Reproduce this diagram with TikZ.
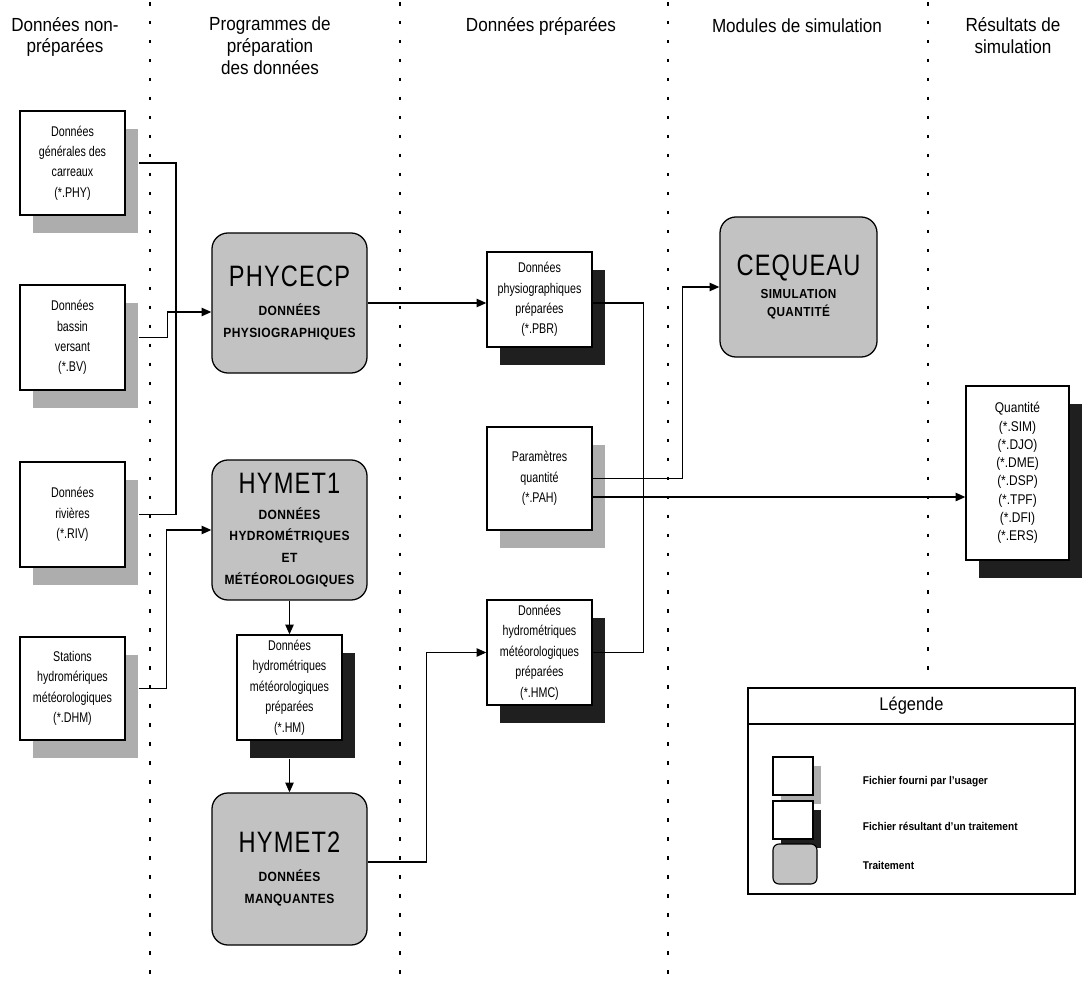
\documentclass[tikz,border=0pt]{standalone}
\usepackage{fontspec}
\setmainfont[FakeStretch=0.9]{Liberation Sans}
\newfontfamily\boxfont[FakeStretch=0.76]{Liberation Sans}
\newfontfamily\titlefont[FakeStretch=0.8,LetterSpace=4]{Liberation Sans}
\newfontfamily\subfont[FakeStretch=0.9,LetterSpace=3]{Liberation Sans}
\newfontfamily\qfont[FakeStretch=0.85]{Liberation Sans}
\usetikzlibrary{arrows.meta,calc,shadows}
\definecolor{procgray}{gray}{0.76}
\definecolor{shadegray}{gray}{0.68}
\definecolor{shadedark}{gray}{0.12}
\newcommand{\proctitle}[1]{{\titlefont\mdseries\fontsize{21}{24}\selectfont #1}}
\begin{document}
\begin{tikzpicture}[x=0.025cm,y=-0.025cm,
  conn/.style={line width=1pt},
  arr/.style={conn,-{Triangle[length=7pt,width=6pt]}},
  divider/.style={line width=1.2pt, dash pattern=on 2.5pt off 11pt},
  filebox/.style={draw, line width=0.9pt, fill=white, align=center, inner sep=1pt,
    font=\boxfont\fontsize{10}{14.5}\selectfont, minimum width=2.625cm},
  userfile/.style={filebox, drop shadow={shadow xshift=0.325cm, shadow yshift=-0.45cm, fill=shadegray, opacity=1}},
  resfile/.style={filebox, drop shadow={shadow xshift=0.325cm, shadow yshift=-0.45cm, fill=shadedark, opacity=1}},
  proc/.style={draw, line width=0.9pt, fill=procgray, rounded corners=0.4cm, align=center,
    minimum width=3.875cm, minimum height=3.5cm, font=\subfont\bfseries\fontsize{9.5}{15.5}\selectfont},
  header/.style={align=center, font=\fontsize{13.5}{15.5}\selectfont},
  legtext/.style={anchor=west, font=\bfseries\fontsize{8}{10}\selectfont}
]
\useasboundingbox (0,0) rectangle (1084,984);

% column dividers
\draw[divider] (150,2) -- (150,984);
\draw[divider] (400,2) -- (400,984);
\draw[divider] (668,2) -- (668,984);
\draw[divider] (928,2) -- (928,684);

% headers
\node[header] (h1) at (65,37) {Données non-\\préparées};
\node[header] (h2) at (270,46) {Programmes de\\préparation\\des données};
\node[header] (h3) at (541,26) {Données préparées};
\node[header] (h4) at (797,26) {Modules de simulation};
\node[header] (h5) at (1013,36) {Résultats de\\simulation};

% user files (left column)
\node[userfile, minimum height=2.6cm] (phy) at (72.5,163) {Données\\générales des\\carreaux\\(*.PHY)};
\node[userfile, minimum height=2.625cm] (bv) at (72.5,337.5) {Données\\bassin\\versant\\(*.BV)};
\node[userfile, minimum height=2.625cm] (riv) at (72.5,514.5) {Données\\rivières\\(*.RIV)};
\node[userfile, minimum height=2.575cm] (dhm) at (72.5,688.5) {Stations\\hydromériques\\météorologiques\\(*.DHM)};

% processes
\node[proc] (phycecp) at (289.5,303) {\proctitle{PHYCECP}\\[5pt]DONNÉES\\PHYSIOGRAPHIQUES};
\node[proc] (hymet1) at (289.5,530) {\proctitle{HYMET1}\\[3pt]DONNÉES\\HYDROMÉTRIQUES\\ET\\MÉTÉOROLOGIQUES};
\node[resfile, minimum height=2.625cm] (hm) at (289.5,687.5) {Données\\hydrométriques\\météorologiques\\préparées\\(*.HM)};
\node[proc, minimum height=3.8cm] (hymet2) at (289.5,869) {\proctitle{HYMET2}\\[5pt]DONNÉES\\MANQUANTES};

% prepared data
\node[resfile, minimum height=2.375cm] (pbr) at (539.5,299.5) {Données\\physiographiques\\préparées\\(*.PBR)};
\node[userfile, minimum height=2.575cm] (pah) at (539.5,478.5) {Paramètres\\quantité\\(*.PAH)};
\node[resfile, minimum height=2.625cm] (hmc) at (539.5,652.5) {Données\\hydrométriques\\météorologiques\\préparées\\(*.HMC)};

% simulation
\node[proc, minimum width=3.925cm, font=\subfont\bfseries\fontsize{9.3}{13}\selectfont] (cequeau) at (798.5,287) {\proctitle{CEQUEAU}\\[3pt]SIMULATION\\QUANTITÉ};

% results
\node[resfile, minimum width=2.575cm, minimum height=4.35cm, font=\qfont\fontsize{10}{13}\selectfont] (quant) at (1017.5,473)
  {Quantité\\(*.SIM)\\(*.DJO)\\(*.DME)\\(*.DSP)\\(*.TPF)\\(*.DFI)\\(*.ERS)};

% connectors: left column
\coordinate (busx) at (176,0);
\draw[conn] ([xshift=0.325cm]phy.east) -| (busx |- riv.east) -- ([xshift=0.325cm]riv.east);
\draw[arr] ([xshift=0.325cm]bv.east) -| ($(phycecp.west)+(-44,9)$) -- ($(phycecp.west)+(0,9)$);
\draw[arr] ([xshift=0.325cm]dhm.east) -| ($(hymet1.west)+(-45,0)$) -- (hymet1.west);

% connectors: processes
\draw[arr] (phycecp.east) -- (phycecp.east -| pbr.west);
\draw[arr] (hymet1.south) -- (hm.north);
\draw[arr] ([yshift=-0.45cm]hm.south) -- (hymet2.north);
\draw[arr] ($(hymet2.east)+(0,-7)$) -| ($(hmc.west)+(-60,0)$) -- (hmc.west);

% connectors: prepared data
\draw[conn] (pbr.east |- phycecp.east) -| ($(hmc.east)+(51,0)$) -- (hmc.east);
\draw[arr] (pah.east) -| ($(cequeau.west)+(-37,0)$) -- (cequeau.west);
\coordinate (pq) at ($(pah.east)+(0,18.5)$);
\draw[arr] (pq) -- (pq -| quant.west);

% legend
\node[draw, line width=0.9pt, minimum width=8.175cm, minimum height=5.15cm] (legend) at (911.5,791) {};
\draw[line width=0.9pt] (legend.west |- 0,724) -- (legend.east |- 0,724);
\node[font=\fontsize{13}{15}\selectfont] (legtitle) at (911.5,706) {Légende};
\node[draw, line width=0.8pt, fill=white, minimum width=1cm, minimum height=0.95cm,
  drop shadow={shadow xshift=0.2cm, shadow yshift=-0.22cm, fill=shadegray, opacity=1}] (lg1) at (793,776) {};
\node[legtext] (lt1) at (858,782) {Fichier fourni par l'usager};
\node[draw, line width=0.8pt, fill=white, minimum width=1cm, minimum height=0.95cm,
  drop shadow={shadow xshift=0.2cm, shadow yshift=-0.22cm, fill=shadedark, opacity=1}] (lg2) at (793,820) {};
\node[legtext] (lt2) at (858,826) {Fichier résultant d'un traitement};
\node[draw, line width=0.8pt, fill=procgray, rounded corners=0.15cm, minimum width=1.1cm, minimum height=1cm] (lg3) at (795,864) {};
\node[legtext] (lt3) at (858,865) {Traitement};
\end{tikzpicture}
\end{document}
